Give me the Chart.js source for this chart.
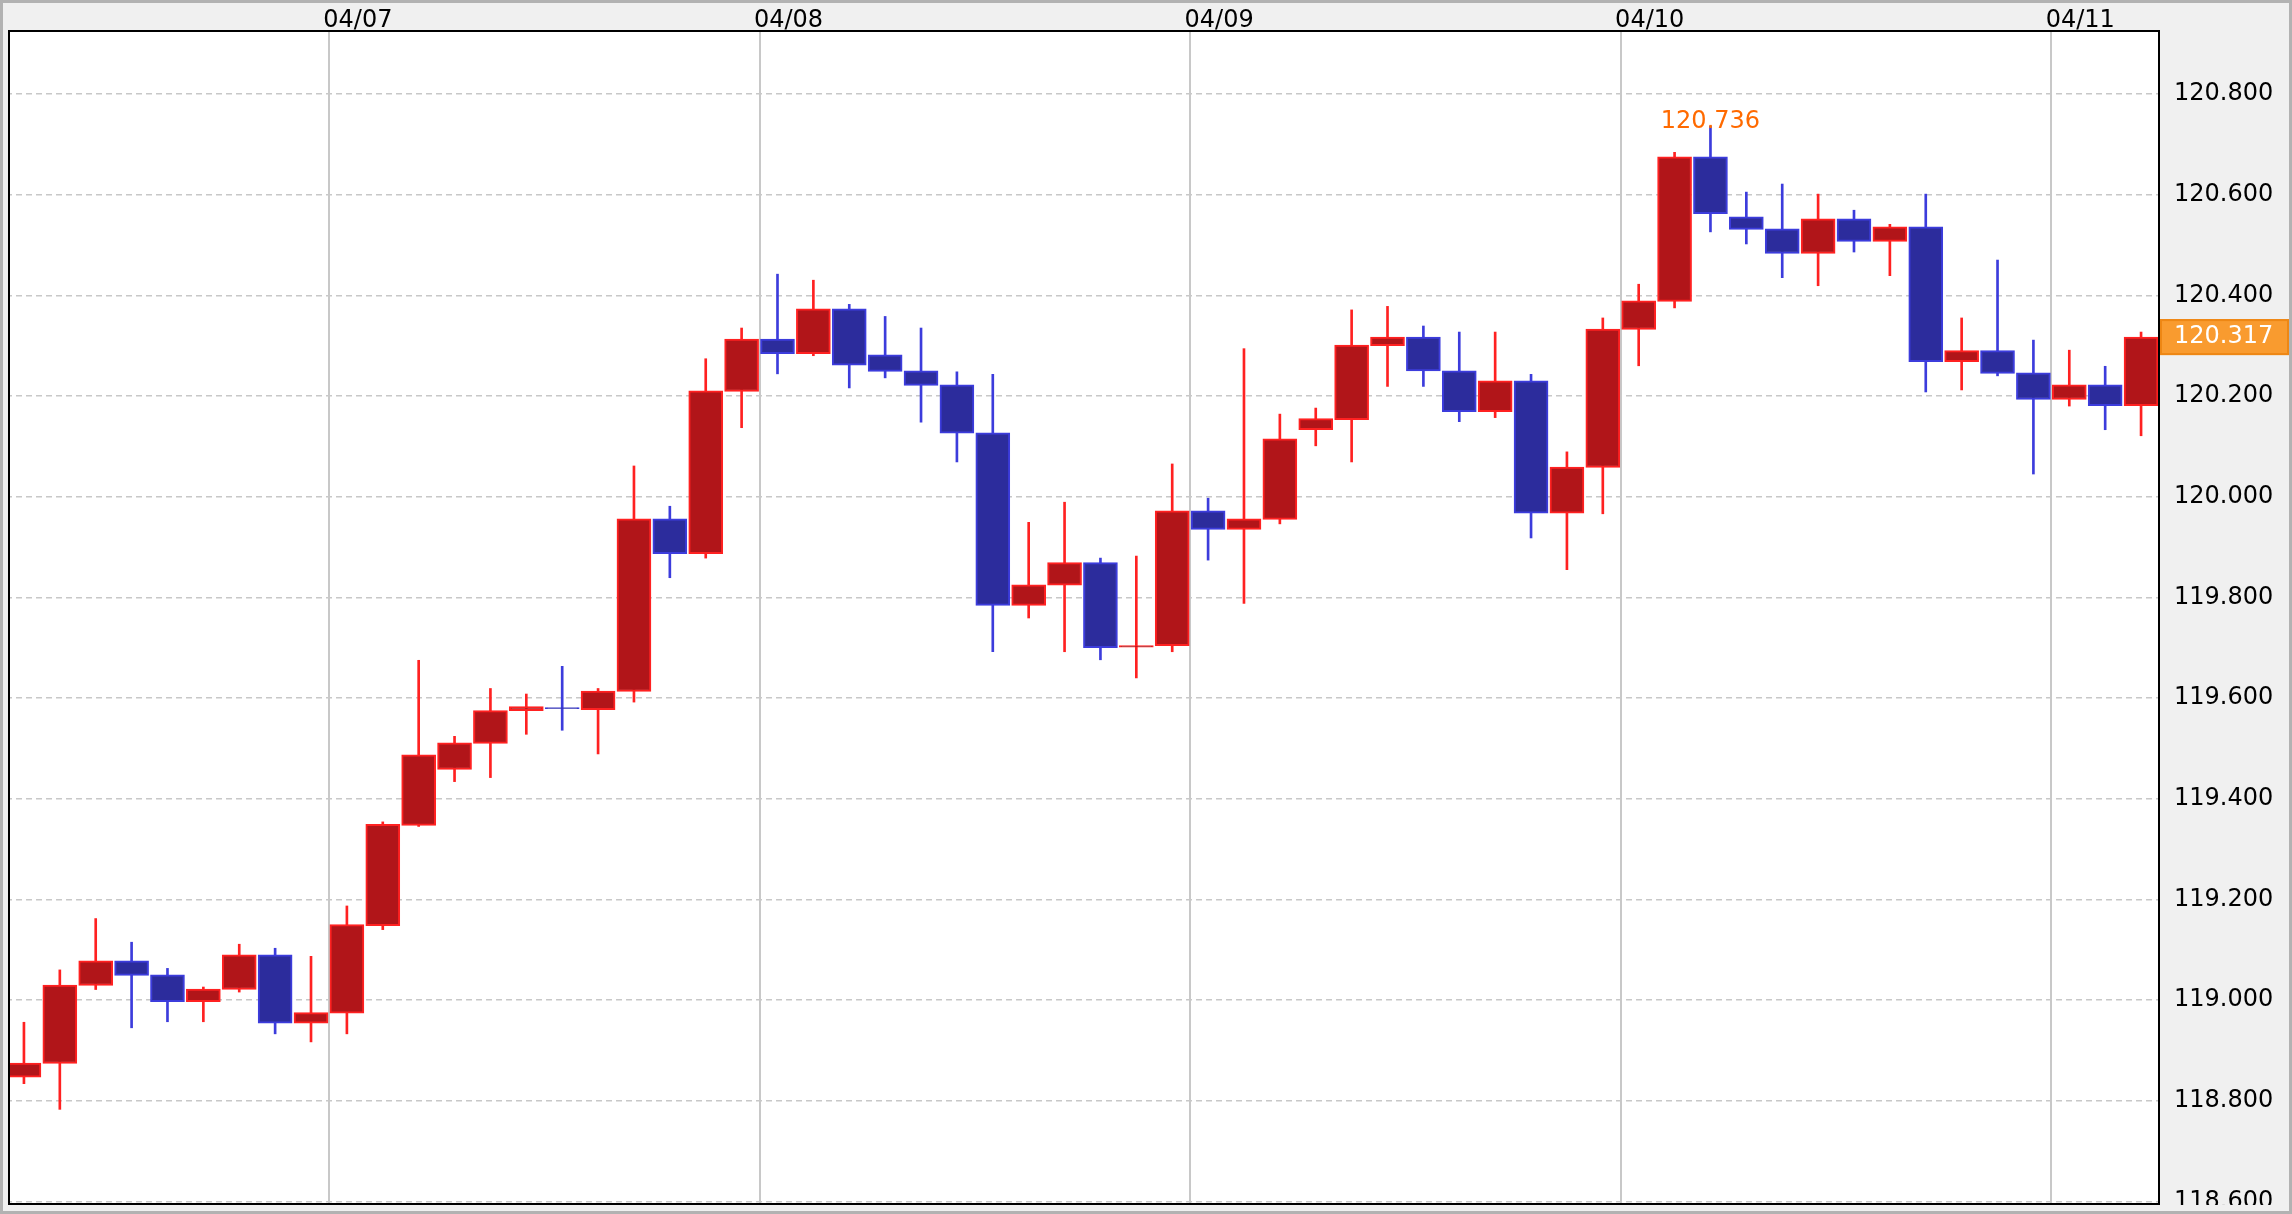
<!DOCTYPE html>
<html>
<head>
<meta charset="utf-8">
<script src="https://cdn.jsdelivr.net/npm/chart.js@4.4.1/dist/chart.umd.min.js"></script>
<style>
  html, body { margin: 0; padding: 0; background: #f0f0f0; }
  canvas { display: block; }
</style>
</head>
<body>
<canvas id="grafico" width="2292" height="1214"></canvas>
<script>
// velas de 2 horas
const horas = [
  "04/06 06:00", "04/06 08:00", "04/06 10:00", "04/06 12:00", "04/06 14:00", "04/06 16:00",
  "04/06 18:00", "04/06 20:00", "04/06 22:00",
  "04/07 00:00", "04/07 02:00", "04/07 04:00", "04/07 06:00", "04/07 08:00", "04/07 10:00",
  "04/07 12:00", "04/07 14:00", "04/07 16:00", "04/07 18:00", "04/07 20:00", "04/07 22:00",
  "04/08 00:00", "04/08 02:00", "04/08 04:00", "04/08 06:00", "04/08 08:00", "04/08 10:00",
  "04/08 12:00", "04/08 14:00", "04/08 16:00", "04/08 18:00", "04/08 20:00", "04/08 22:00",
  "04/09 00:00", "04/09 02:00", "04/09 04:00", "04/09 06:00", "04/09 08:00", "04/09 10:00",
  "04/09 12:00", "04/09 14:00", "04/09 16:00", "04/09 18:00", "04/09 20:00", "04/09 22:00",
  "04/10 00:00", "04/10 02:00", "04/10 04:00", "04/10 06:00", "04/10 08:00", "04/10 10:00",
  "04/10 12:00", "04/10 14:00", "04/10 16:00", "04/10 18:00", "04/10 20:00", "04/10 22:00",
  "04/11 00:00", "04/11 02:00", "04/11 04:00"
];

const apertura = [
  118.847, 118.874, 119.029, 119.078, 119.050, 118.997, 119.021, 119.090, 118.954, 118.974,
  119.148, 119.347, 119.458, 119.510, 119.575, 119.581, 119.577, 119.613, 119.956, 119.887,
  120.209, 120.313, 120.284, 120.373, 120.282, 120.250, 120.222, 120.127, 119.784, 119.824,
  119.869, 119.701, 119.704, 119.972, 119.935, 119.955, 120.133, 120.153, 120.300, 120.317,
  120.250, 120.169, 120.230, 119.967, 120.058, 120.332, 120.388, 120.675, 120.556, 120.532,
  120.483, 120.552, 120.507, 120.536, 120.268, 120.290, 120.246, 120.193, 120.222, 120.181
];
const maximo = [
  118.956, 119.060, 119.162, 119.115, 119.063, 119.026, 119.111, 119.103, 119.087, 119.187,
  119.354, 119.675, 119.524, 119.619, 119.608, 119.663, 119.619, 120.061, 119.981, 120.274,
  120.335, 120.442, 120.430, 120.382, 120.358, 120.335, 120.248, 120.243, 119.949, 119.989,
  119.878, 119.882, 120.065, 119.997, 120.294, 120.164, 120.176, 120.371, 120.378, 120.339,
  120.327, 120.327, 120.243, 120.089, 120.355, 120.422, 120.684, 120.736, 120.605, 120.621,
  120.601, 120.569, 120.541, 120.601, 120.355, 120.470, 120.311, 120.291, 120.259, 120.327
];
const minimo = [
  118.834, 118.783, 119.021, 118.945, 118.957, 118.957, 119.016, 118.933, 118.917, 118.933,
  119.140, 119.345, 119.434, 119.442, 119.528, 119.536, 119.489, 119.592, 119.839, 119.878,
  120.137, 120.244, 120.280, 120.216, 120.236, 120.148, 120.069, 119.692, 119.759, 119.692,
  119.676, 119.640, 119.692, 119.874, 119.788, 119.946, 120.101, 120.069, 120.219, 120.219,
  120.149, 120.157, 119.918, 119.855, 119.966, 120.260, 120.375, 120.526, 120.502, 120.435,
  120.419, 120.486, 120.439, 120.208, 120.212, 120.240, 120.045, 120.180, 120.133, 120.121
];
const cierre = [
  118.875, 119.030, 119.078, 119.049, 118.997, 119.022, 119.090, 118.954, 118.975, 119.150,
  119.349, 119.487, 119.511, 119.575, 119.583, 119.579, 119.614, 119.956, 119.887, 120.210,
  120.313, 120.284, 120.373, 120.261, 120.249, 120.221, 120.126, 119.784, 119.825, 119.869,
  119.700, 119.704, 119.972, 119.935, 119.956, 120.115, 120.155, 120.301, 120.317, 120.250,
  120.169, 120.230, 119.967, 120.059, 120.333, 120.389, 120.675, 120.562, 120.531, 120.483,
  120.552, 120.507, 120.536, 120.268, 120.290, 120.245, 120.193, 120.222, 120.181, 120.317
];

const ticksY = [118.6, 118.8, 119.0, 119.2, 119.4, 119.6, 119.8, 120.0, 120.2, 120.4, 120.6, 120.8];

const sube = apertura.map((o, i) => cierre[i] >= o);
const relleno = sube.map(s => s ? "#b11519" : "#2c2c9c");
const borde = sube.map(s => s ? "#ff2121" : "#3c3cdc");

Chart.defaults.font.family = "'DejaVu Sans', Verdana, sans-serif";
Chart.defaults.font.size = 24;
Chart.defaults.color = "#000";

const marco = {
  id: "marco",
  beforeDraw(chart) {
    const { ctx, width, height, chartArea: a } = chart;
    ctx.save();
    ctx.fillStyle = "#f0f0f0";
    ctx.fillRect(0, 0, width, height);
    ctx.fillStyle = "#fff";
    ctx.fillRect(a.left + 3, a.top, a.right - a.left - 3, a.bottom - a.top);
    ctx.restore();
  },
  afterDatasetsDraw(chart) {
    const { ctx, chartArea: a } = chart;
    ctx.save();
    ctx.fillStyle = "#f0f0f0";
    ctx.fillRect(a.left, a.top, 2, a.bottom - a.top);
    ctx.strokeStyle = "#000";
    ctx.lineWidth = 2;
    ctx.strokeRect(a.left + 3, a.top, a.right - a.left - 3, a.bottom - a.top);
    ctx.restore();
  },
  afterDraw(chart) {
    const { ctx, width, height, chartArea: a, scales } = chart;
    ctx.save();

    // maximo del periodo
    const iMax = maximo.indexOf(Math.max(...maximo));
    ctx.fillStyle = "#ff6a00";
    ctx.textAlign = "center";
    ctx.textBaseline = "alphabetic";
    ctx.fillText(maximo[iMax].toFixed(3), scales.x.getPixelForValue(iMax), scales.y.getPixelForValue(maximo[iMax]) + 2);

    // ultimo precio
    const ultimo = cierre[cierre.length - 1];
    const py = scales.y.getPixelForValue(ultimo);
    ctx.fillStyle = "#f99b2f";
    ctx.fillRect(a.right + 1, py - 18, width - a.right - 4, 36);
    ctx.strokeStyle = "#ee8714";
    ctx.lineWidth = 2;
    ctx.strokeRect(a.right + 2, py - 17, width - a.right - 6, 34);
    ctx.fillStyle = "#fff";
    ctx.textAlign = "left";
    ctx.textBaseline = "middle";
    ctx.fillText(ultimo.toFixed(3), a.right + 15, py);

    // la etiqueta de abajo queda cortada como en el original
    ctx.fillStyle = "#f0f0f0";
    ctx.fillRect(a.right + 1, a.bottom + 1, width - a.right, height - a.bottom);

    ctx.strokeStyle = "#b2b2b2";
    ctx.lineWidth = 3;
    ctx.strokeRect(1.5, 1.5, width - 3, height - 3);
    ctx.restore();
  }
};

const recorte = { left: -3, top: 0, right: 0, bottom: 0 };

new Chart(document.getElementById("grafico"), {
  type: "bar",
  data: {
    labels: horas,
    datasets: [
      {
        label: "cuerpo",
        data: apertura.map((o, i) => [o, cierre[i]]),
        backgroundColor: relleno,
        borderColor: borde,
        borderWidth: 2,
        borderSkipped: false,
        barThickness: 34,
        grouped: false,
        clip: recorte
      },
      {
        label: "mecha",
        data: minimo.map((l, i) => [l, maximo[i]]),
        backgroundColor: borde,
        borderWidth: 0,
        barThickness: 2,
        grouped: false,
        clip: recorte
      }
    ]
  },
  options: {
    responsive: false,
    animation: false,
    devicePixelRatio: 1,
    layout: { padding: { left: 6, top: 0, right: 0, bottom: 10 } },
    plugins: { legend: { display: false }, tooltip: { enabled: false } },
    scales: {
      x: {
        position: "top",
        afterFit: s => {
          s.height = 31;
          s.paddingLeft = 0;
          s.paddingRight = 0;
        },
        border: { display: false },
        grid: {
          drawTicks: false,
          lineWidth: 2,
          color: c => (c.index < horas.length && horas[c.index].endsWith("00:00")) ? "#c8c8c8" : "rgba(0,0,0,0)"
        },
        ticks: {
          autoSkip: false,
          maxRotation: 0,
          padding: -2,
          labelOffset: 11,
          font: { size: 24, lineHeight: 1 },
          callback: (v, i) => horas[i].endsWith("00:00") ? horas[i].slice(0, 5) : ""
        }
      },
      y: {
        position: "right",
        min: 118.595,
        max: 120.925,
        afterBuildTicks: s => { s.ticks = ticksY.map(v => ({ value: v })); },
        afterFit: s => {
          s.width = 133;
          s.paddingTop = 0;
          s.paddingBottom = 0;
        },
        border: { display: false, dash: [6, 4] },
        grid: { drawTicks: false, color: "#c8c8c8", lineWidth: 1.5 },
        ticks: {
          padding: 15,
          font: { size: 24, lineHeight: 1 },
          callback: v => v.toFixed(3)
        }
      }
    }
  },
  plugins: [marco]
});
</script>
</body>
</html>
